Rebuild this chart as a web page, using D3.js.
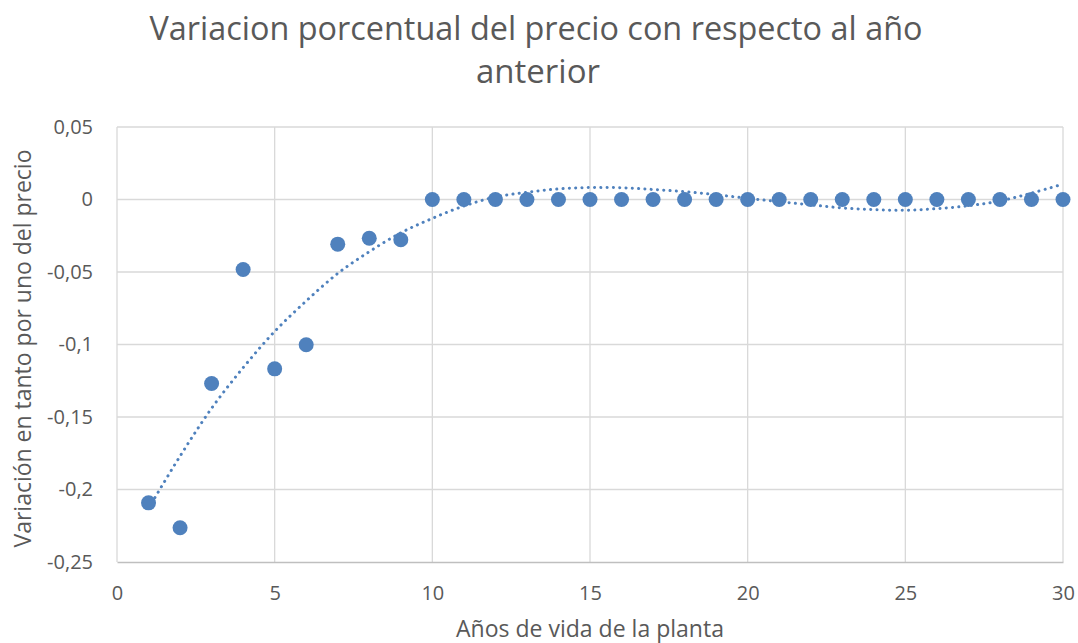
<!DOCTYPE html>
<html>
<head>
<meta charset="utf-8">
<script src="https://cdn.jsdelivr.net/npm/d3@7"></script>
<style>
  html, body { margin: 0; padding: 0; background: #fff; }
  svg { display: block; font-family: "Open Sans", "Noto Sans", sans-serif; }
</style>
</head>
<body>
<svg id="chart" width="1078" height="643"></svg>
<script>
// Years of plant life and yearly price variation (per-unit)
const years = [1, 2, 3, 4, 5, 6, 7, 8, 9, 10, 11, 12, 13, 14, 15, 16, 17, 18, 19, 20,
               21, 22, 23, 24, 25, 26, 27, 28, 29, 30];
const variation = [-0.2092, -0.2264, -0.1269, -0.0483, -0.1168, -0.1002, -0.0308, -0.0267, -0.0278, 0,
                   0, 0, 0, 0, 0, 0, 0, 0, 0, 0,
                   0, 0, 0, 0, 0, 0, 0, 0, 0, 0];
// Polynomial trendline, evaluated at each year
const trendValues = [-0.213, -0.177, -0.144, -0.116, -0.091, -0.070, -0.051, -0.036, -0.023, -0.013,
                     -0.0045, 0.0017, 0.0050, 0.0073, 0.0083, 0.0081, 0.0069, 0.0054, 0.0033, 0.0008,
                     -0.0015, -0.0037, -0.0058, -0.0070, -0.0074, -0.0063, -0.0043, -0.0010, 0.0044, 0.0106];
const xTicks = [0, 5, 10, 15, 20, 25, 30];
const yTicks = [0.05, 0, -0.05, -0.1, -0.15, -0.2, -0.25];

const titleLines = ["Variacion porcentual del precio con respecto al año", "anterior"];
const xTitle = "Años de vida de la planta";
const yTitle = "Variación en tanto por uno del precio";

const color = "#4f81bd";
const textColor = "#595959";
const gridColor = "#d9d9d9";

const plot = { left: 117, right: 1063, top: 127, bottom: 562 };

const svg = d3.select("#chart");

const x = d3.scaleLinear().domain([0, 30]).range([plot.left, plot.right]);
const y = d3.scaleLinear().domain([-0.25, 0.05]).range([plot.bottom, plot.top]);

const fmt = v => (Math.abs(v) < 1e-12 ? "0" : String(+v.toFixed(2)).replace(".", ","));

// Gridlines
svg.append("g")
  .selectAll("line")
  .data(yTicks.filter(t => t !== -0.25))
  .join("line")
  .attr("x1", plot.left).attr("x2", plot.right)
  .attr("y1", d => y(d)).attr("y2", d => y(d))
  .attr("stroke", gridColor).attr("stroke-width", 1.3);

svg.append("g")
  .selectAll("line")
  .data(xTicks)
  .join("line")
  .attr("x1", d => x(d)).attr("x2", d => x(d))
  .attr("y1", plot.top).attr("y2", plot.bottom)
  .attr("stroke", gridColor).attr("stroke-width", 1.3);

// Bottom axis
const xAxis = d3.axisBottom(x).tickValues(xTicks).tickSize(0).tickFormat(fmt);
const gx = svg.append("g").attr("transform", `translate(0,${plot.bottom})`).call(xAxis);
gx.select(".domain").attr("stroke", "#bfbfbf").attr("stroke-width", 1.3);
gx.selectAll("text")
  .attr("y", 38).attr("dy", 0)
  .attr("fill", textColor).attr("font-size", 20).attr("font-family", "Open Sans");

// Left axis labels
const yAxis = d3.axisLeft(y).tickValues(yTicks).tickSize(0).tickPadding(24).tickFormat(fmt);
const gy = svg.append("g").attr("transform", `translate(${plot.left},0)`).call(yAxis);
gy.select(".domain").remove();
gy.selectAll("text").attr("fill", textColor).attr("font-size", 20).attr("font-family", "Open Sans");

// Dotted trendline
svg.append("path")
  .datum(years.map((yr, i) => [yr, trendValues[i]]))
  .attr("d", d3.line().x(d => x(d[0])).y(d => y(d[1])).curve(d3.curveCatmullRom.alpha(0.5)))
  .attr("fill", "none")
  .attr("stroke", color)
  .attr("stroke-width", 3)
  .attr("stroke-linecap", "round")
  .attr("stroke-dasharray", "0.1 6.2");

// Data points
svg.append("g")
  .selectAll("circle")
  .data(years.map((yr, i) => [yr, variation[i]]))
  .join("circle")
  .attr("cx", d => x(d[0]))
  .attr("cy", d => y(d[1]))
  .attr("r", 7.5)
  .attr("fill", color);

// Chart title
svg.append("text")
  .attr("x", 536).attr("y", 40)
  .attr("text-anchor", "middle")
  .attr("fill", textColor)
  .attr("font-size", 33)
  .attr("textLength", 773)
  .attr("lengthAdjust", "spacingAndGlyphs")
  .text(titleLines[0]);
svg.append("text")
  .attr("x", 538).attr("y", 83)
  .attr("text-anchor", "middle")
  .attr("fill", textColor)
  .attr("font-size", 33)
  .attr("textLength", 124)
  .attr("lengthAdjust", "spacingAndGlyphs")
  .text(titleLines[1]);

// Axis titles
svg.append("text")
  .attr("x", (plot.left + plot.right) / 2).attr("y", 637)
  .attr("text-anchor", "middle")
  .attr("fill", textColor)
  .attr("font-size", 23)
  .attr("textLength", 268)
  .attr("lengthAdjust", "spacingAndGlyphs")
  .text(xTitle);

svg.append("text")
  .attr("transform", `translate(31,${(plot.top + plot.bottom) / 2 + 4}) rotate(-90)`)
  .attr("text-anchor", "middle")
  .attr("fill", textColor)
  .attr("font-size", 23)
  .attr("textLength", 398)
  .attr("lengthAdjust", "spacingAndGlyphs")
  .text(yTitle);
</script>
</body>
</html>
